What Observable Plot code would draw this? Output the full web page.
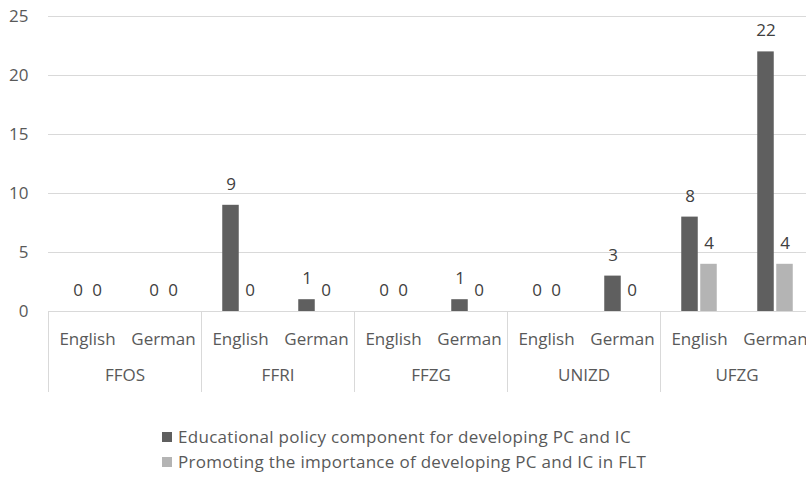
<!DOCTYPE html>
<html><head><meta charset="utf-8">
<script src="https://cdn.jsdelivr.net/npm/d3@7"></script>
<script src="https://cdn.jsdelivr.net/npm/@observablehq/plot@0.6"></script>
<style>
body{margin:0;background:#fff;font-family:"Open Sans", sans-serif;overflow:hidden;}
#legend{padding-left:162px;margin-top:24px;}
.item{display:flex;align-items:center;height:25px;font-size:17px;color:#595959;letter-spacing:0.3px;}
.sw{width:10px;height:10px;margin-right:6px;}
</style>
</head><body><div id="chart"></div><div id="legend"></div>
<script>
const institutions = ["FFOS","FFRI","FFZG","UNIZD","UFZG"];
const languages = ["English","German"];
const seriesNames = ["Educational policy component for developing PC and IC","Promoting the importance of developing PC and IC in FLT"];
const policyValues = [0,0, 9,1, 0,1, 0,3, 8,22];
const promotingValues = [0,0, 0,0, 0,0, 0,0, 4,4];
const yTicks = [0,5,10,15,20,25];
const colors = ["#5f5f5f","#b4b4b4"];

const rows = [];
institutions.forEach((inst,i)=>languages.forEach((lang,j)=>{
  rows.push({inst, lang, series: seriesNames[0], value: policyValues[i*2+j]});
  rows.push({inst, lang, series: seriesNames[1], value: promotingValues[i*2+j]});
}));
const s0 = rows.filter(d=>d.series===seriesNames[0]);
const s1 = rows.filter(d=>d.series===seriesNames[1]);

const plot = Plot.plot({
  width:806, height:400, marginLeft:48, marginRight:-7, marginTop:16, marginBottom:89,
  style:{fontFamily:"'Open Sans', sans-serif", fontSize:"17px", color:"#595959", overflow:"hidden", background:"#fff"},
  fx:{domain:institutions, padding:0, label:null},
  x:{domain:languages, padding:0, label:null},
  y:{domain:[0,25], label:null},
  color:{domain:seriesNames, range:colors},
  marks:[
    Plot.gridY(yTicks, {stroke:"#d9d9d9", strokeOpacity:1}),
    Plot.frame({anchor:"left", stroke:"#d9d9d9", strokeOpacity:1, insetTop:295, insetBottom:-80}),
    Plot.axisY(yTicks, {tickSize:0, tickPadding:20, label:null}),
    Plot.axisX({anchor:"bottom", tickSize:0, tickPadding:21, label:null}),
    Plot.axisFx({anchor:"bottom", tickSize:0, tickPadding:57, label:null}),
    Plot.barY(s0, {fx:"inst", x:"lang", y:"value", fill:"series", insetLeft:29.75, insetRight:29.75, dx:-9.5}),
    Plot.barY(s1, {fx:"inst", x:"lang", y:"value", fill:"series", insetLeft:29.75, insetRight:29.75, dx:9.5}),
    Plot.text(s0, {fx:"inst", x:"lang", y:"value", text:d=>String(d.value), dx:-9.5, dy:-21, fill:"#404040"}),
    Plot.text(s1, {fx:"inst", x:"lang", y:"value", text:d=>String(d.value), dx:9.5, dy:-21, fill:"#404040"})
  ]
});
document.getElementById("chart").appendChild(plot);

const legend = document.getElementById("legend");
seriesNames.forEach((name,i)=>{
  const item = document.createElement("div");
  item.className = "item";
  const sw = document.createElement("span");
  sw.className = "sw";
  sw.style.background = colors[i];
  const t = document.createElement("span");
  t.textContent = name;
  item.appendChild(sw); item.appendChild(t);
  legend.appendChild(item);
});
</script>
</body></html>
